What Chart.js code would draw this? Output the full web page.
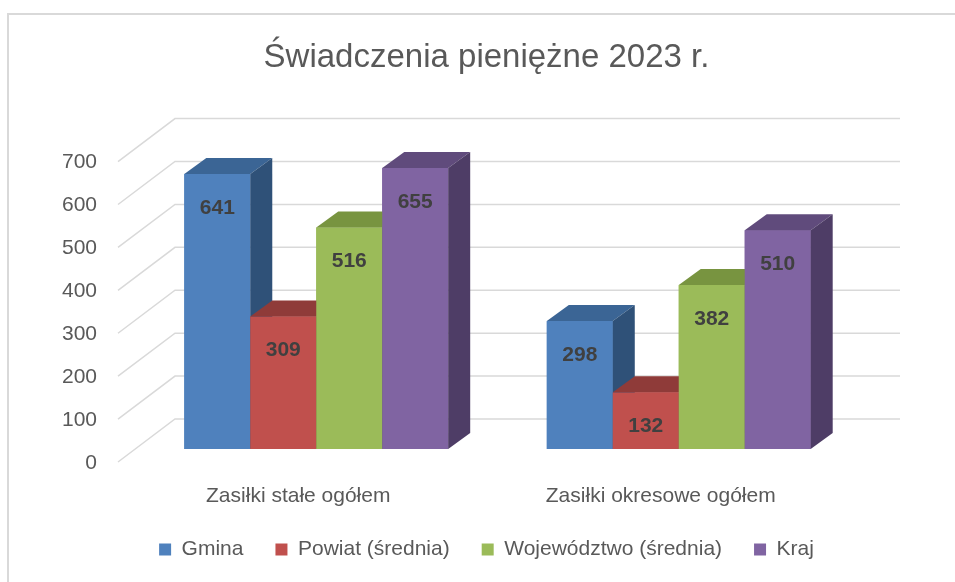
<!DOCTYPE html>
<html lang="pl">
<head>
<meta charset="utf-8">
<title>Świadczenia pieniężne 2023 r.</title>
<script src="https://cdn.jsdelivr.net/npm/chart.js@4"></script>
<style>
  html, body { margin: 0; padding: 0; background: #fff; overflow: hidden; }
  #wrap { position: relative; width: 965px; height: 582px; }
</style>
</head>
<body>
<div id="wrap"><canvas id="chart"></canvas></div>
<script>
// data
const categories = ['Zasiłki stałe ogółem', 'Zasiłki okresowe ogółem'];
const seriesNames = ['Gmina', 'Powiat (średnia)', 'Województwo (średnia)', 'Kraj'];
const gmina = [641, 298];
const powiat = [309, 132];
const wojewodztwo = [516, 382];
const kraj = [655, 510];
const yMax = 700;
const yStep = 100;

// colours of the three visible faces of each bar
const frontColors = ['#4F81BD', '#C0504D', '#9BBB59', '#8064A2'];
const topColors = ['#3B6595', '#8F3B39', '#789440', '#604B7C'];
const sideColors = ['#2F5178', '#742F2D', '#5F7633', '#4E3D66'];

const textColor = '#595959';
const gridColor = '#D9D9D9';

// fake 3D offsets (pixels)
const BAR_DX = 22, BAR_DY = 16;
const WALL_FRONT_DX = -17, WALL_FRONT_DY = 13;
const WALL_BACK_DX = 40, WALL_BACK_DY = -30;

Chart.defaults.font.family = '"Liberation Sans", Arial, sans-serif';

const frame3d = {
  id: 'frame3d',
  beforeDraw(chart) {
    // outer frame (only left and top edges are inside the crop)
    const ctx = chart.ctx;
    ctx.save();
    ctx.strokeStyle = gridColor;
    ctx.lineWidth = 2;
    ctx.beginPath();
    ctx.moveTo(8, chart.height + 2);
    ctx.lineTo(8, 14);
    ctx.lineTo(chart.width + 2, 14);
    ctx.stroke();
    ctx.restore();
  },
  beforeDatasetsDraw(chart) {
    // side wall + back wall grid lines
    const {ctx, chartArea} = chart;
    const y = chart.scales.y;
    ctx.save();
    ctx.strokeStyle = gridColor;
    ctx.lineWidth = 1.5;
    y.ticks.forEach(t => {
      const py = y.getPixelForValue(t.value);
      ctx.beginPath();
      ctx.moveTo(chartArea.left + WALL_FRONT_DX, py + WALL_FRONT_DY);
      ctx.lineTo(chartArea.left + WALL_BACK_DX, py + WALL_BACK_DY);
      ctx.lineTo(chartArea.right + WALL_BACK_DX, py + WALL_BACK_DY);
      ctx.stroke();
    });
    ctx.restore();
  },
  afterDatasetsDraw(chart) {
    const ctx = chart.ctx;
    const nSets = chart.data.datasets.length;
    ctx.save();
    // painter's order: left to right inside each category
    for (let i = 0; i < categories.length; i++) {
      for (let d = 0; d < nSets; d++) {
        const bar = chart.getDatasetMeta(d).data[i];
        const p = bar.getProps(['x', 'y', 'base', 'width'], true);
        const l = p.x - p.width / 2, r = p.x + p.width / 2;
        ctx.fillStyle = frontColors[d];
        ctx.fillRect(l, p.y, p.width, p.base - p.y);
        ctx.fillStyle = topColors[d];
        ctx.beginPath();
        ctx.moveTo(l, p.y);
        ctx.lineTo(l + BAR_DX, p.y - BAR_DY);
        ctx.lineTo(r + BAR_DX, p.y - BAR_DY);
        ctx.lineTo(r, p.y);
        ctx.closePath();
        ctx.fill();
        ctx.fillStyle = sideColors[d];
        ctx.beginPath();
        ctx.moveTo(r, p.y);
        ctx.lineTo(r + BAR_DX, p.y - BAR_DY);
        ctx.lineTo(r + BAR_DX, p.base - BAR_DY);
        ctx.lineTo(r, p.base);
        ctx.closePath();
        ctx.fill();
      }
    }
    // value labels
    ctx.fillStyle = '#404040';
    ctx.font = 'bold 21px "Liberation Sans", Arial, sans-serif';
    ctx.textAlign = 'center';
    ctx.textBaseline = 'middle';
    for (let d = 0; d < nSets; d++) {
      const meta = chart.getDatasetMeta(d);
      meta.data.forEach((bar, i) => {
        const p = bar.getProps(['x', 'y'], true);
        ctx.fillText(String(chart.data.datasets[d].data[i]), p.x, p.y + 34);
      });
    }
    ctx.restore();
  }
};

const seriesValues = [gmina, powiat, wojewodztwo, kraj];

new Chart(document.getElementById('chart'), {
  type: 'bar',
  data: {
    labels: categories,
    datasets: seriesNames.map((name, k) => ({
      label: name,
      data: seriesValues[k],
      backgroundColor: frontColors[k],
      borderWidth: 0,
      categoryPercentage: 0.728,
      barPercentage: 1
    }))
  },
  options: {
    responsive: true,
    maintainAspectRatio: false,
    animation: false,
    layout: { padding: { left: 8, right: 0, top: 0, bottom: 12 } },
    plugins: {
      title: {
        display: true,
        text: 'Świadczenia pieniężne 2023 r.',
        color: textColor,
        font: { size: 33, weight: 'normal' },
        padding: { top: 38, bottom: 71 }
      },
      legend: {
        position: 'bottom',
        labels: {
          color: textColor,
          font: { size: 21 },
          boxWidth: 12,
          boxHeight: 12,
          padding: 32
        }
      },
      tooltip: { enabled: false }
    },
    scales: {
      x: {
        grid: { display: false },
        border: { display: false },
        ticks: {
          color: textColor,
          font: { size: 21 },
          padding: 27,
          labelOffset: -18,
          maxRotation: 0
        },
        afterFit(scale) { scale.height = 58; }
      },
      y: {
        min: 0,
        max: yMax,
        grid: { display: false, drawTicks: false },
        border: { display: false },
        ticks: {
          stepSize: yStep,
          color: textColor,
          font: { size: 21 },
          padding: 38,
          labelOffset: 14
        },
        afterFit(scale) { scale.width = 127; }
      },
      yRight: {
        type: 'linear',
        position: 'right',
        grid: { display: false },
        border: { display: false },
        ticks: { display: false },
        afterFit(scale) { scale.width = 105; }
      }
    }
  },
  plugins: [frame3d]
});
</script>
</body>
</html>
